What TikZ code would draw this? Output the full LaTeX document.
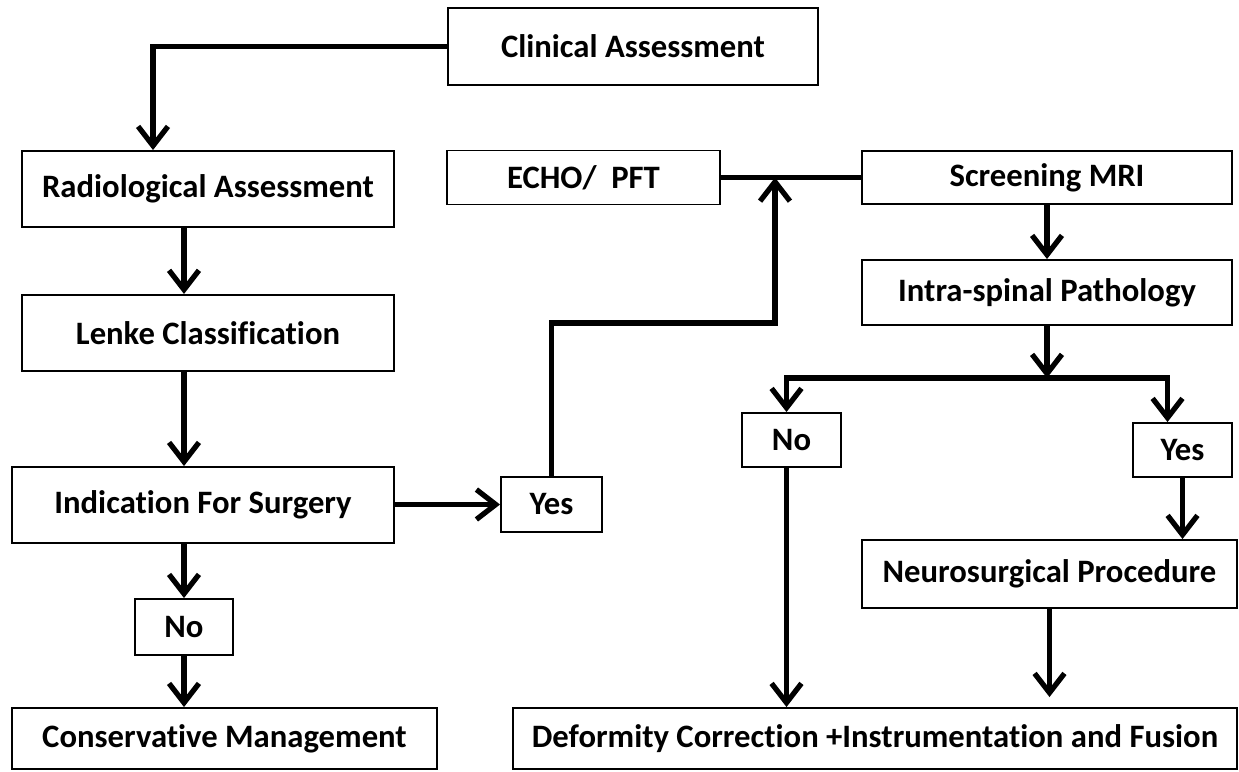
\documentclass[tikz,border=0pt]{standalone}
\usepackage{fontspec}
\setmainfont{Carlito}[Ligatures=NoCommon]
\usepackage{tikz}
\usetikzlibrary{arrows.meta,positioning}
\tikzset{box/.style={draw,rectangle,fill=white,line width=1.1pt,inner sep=0pt,font=\fontsize{18.6}{21}\selectfont\bfseries}}

\begin{document}
\begin{tikzpicture}[x=0.02cm, y=-0.02cm, line width=3pt, >={Straight Barb[length=11pt,width=17pt]}]
   \useasboundingbox (0,0) rectangle (1239,771);
   \node[box,minimum width=7.4cm,minimum height=1.54cm] (1) at (633,46.5) {Clinical Assessment};
   \node[box,minimum width=7.44cm,minimum height=1.52cm] (2) at (208,189) {Radiological Assessment};
   \node[box,minimum width=7.44cm,minimum height=1.52cm] (3) [below=1.32cm of 2] {Lenke Classification};
   \node[box,minimum width=7.64cm,minimum height=1.52cm] (4) at (203,505) {Indication For Surgery};
   \node[box,minimum width=1.96cm,minimum height=1.12cm] (5) at (184,627) {No};
   \node[box,minimum width=8.5cm,minimum height=1.22cm] (6) at (224.5,738.5) {Conservative Management};
   \node[box,minimum width=2.02cm,minimum height=1.1cm] (7) at (551.5,504.5) {Yes};
   \node[box,minimum width=5.46cm,minimum height=1.08cm] (8) at (583.5,177.5) {ECHO/\ \ PFT};
   \node[box,minimum width=7.4cm,minimum height=1.06cm] (9) at (1047,177.5) {Screening MRI};
   \node[box,minimum width=7.4cm,minimum height=1.3cm] (10) at (1047,292.5) {Intra-spinal Pathology};
   \node[box,minimum width=1.98cm,minimum height=1.08cm] (11) at (791.5,440) {No};
   \node[box,minimum width=1.98cm,minimum height=1.08cm] (12) at (1182.5,450) {Yes};
   \node[box,minimum width=7.5cm,minimum height=1.36cm] (13) at (1049.5,574) {Neurosurgical Procedure};
   \node[box,minimum width=14.48cm,minimum height=1.22cm] (14) at (875,738.5) {Deformity Correction +Instrumentation and Fusion};
   \coordinate (15) at (775,177.5);
   \coordinate (16) at (1047,378);
    \draw[->] (1.west) -| ([xshift=-1.1cm]2.north);
    \path[->] (2.south -| 5.north) edge (3.north -| 5.north);
    \path[->] (3.south -| 5.north) edge (4.north -| 5.north);
    \path[->] (4.south -| 5.north) edge (5.north);
    \path[->] (5.south) edge (5.south |- 6.north);
    \path[->] (4.east |- 7.west) edge (7.west);
    \draw[->] (7.north) -- ++(0,-153) -| (15);
    \draw (8.east) -- (9.west);
    \path[->] (9.south) edge (10.north);
    \draw[->] (10.south) -- (16);
    \draw[->] (16) -| ([xshift=-0.1cm]11.north);
    \draw[->] (16) -| ([xshift=-0.3cm]12.north);
    \path[->] (12.south) edge (12.south |- 13.north);
    \path[->] ([xshift=-0.1cm]11.south) edge ([xshift=-0.1cm]11.south |- 14.north);
    \draw[->, shorten >=0.2cm] (13.south) -- (13.south |- 14.north);
\end{tikzpicture}
\end{document}
